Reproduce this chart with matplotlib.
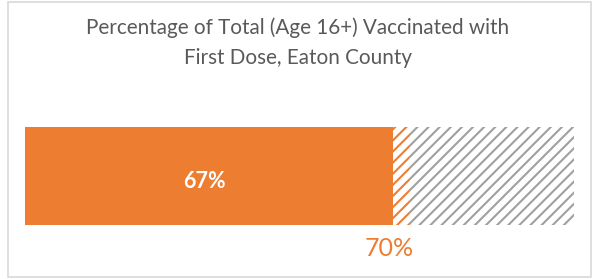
import matplotlib
matplotlib.use("Agg")
import matplotlib.pyplot as plt
from matplotlib.patches import Rectangle

# values
title = "Percentage of Total (Age 16+) Vaccinated with\nFirst Dose, Eaton County"
current_pct = 67
target_pct = 70
full_pct = 100
current_label = "67%"
target_label = "70%"

orange = "#ED7D31"
grey_hatch = "#A0A0A0"

plt.rcParams["font.family"] = ["Lato", "DejaVu Sans"]
plt.rcParams["hatch.linewidth"] = 1.5

W, H = 595, 279
fig = plt.figure(figsize=(W / 100, H / 100), dpi=100)

# outer frame
fig.patches.append(Rectangle((8 / W, 2 / H), 583 / W, 275 / H, transform=fig.transFigure,
                             fill=False, edgecolor="#D9D9D9", linewidth=1.2))

fig.text(298 / W, 1 - 43 / H, title, ha="center", va="center", fontsize=14.9,
         color="#595959", linespacing=1.62)

ax = fig.add_axes([25 / W, (H - 225) / H, 549 / W, 98 / H])
ax.set_xlim(0, full_pct)
ax.set_ylim(0, 1)
ax.axis("off")

# remaining to 100%, grey hatch
ax.barh(0.5, full_pct - target_pct, left=target_pct, height=1, color="white",
        edgecolor=grey_hatch, hatch="///", linewidth=0)
# gap to target, orange hatch
ax.barh(0.5, target_pct - current_pct, left=current_pct, height=1, color="white",
        edgecolor=orange, hatch="///", linewidth=0)
# current
ax.barh(0.5, current_pct, left=0, height=1, color=orange, linewidth=0)

ax.text(32.6, 0.44, current_label, ha="center", va="center",
        fontsize=15.5, fontweight="bold", color="white")
ax.text(target_pct - 3.6, -0.24, target_label, ha="center", va="center",
        fontsize=18, color=orange, clip_on=False)

fig.savefig("out.png", dpi=100)
